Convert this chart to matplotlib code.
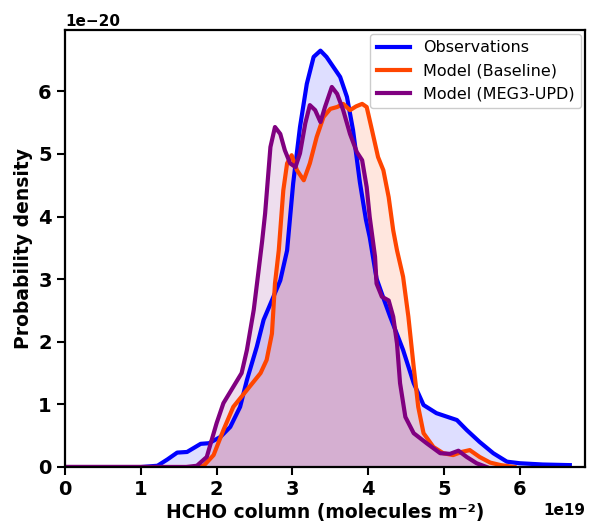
import numpy as np
import matplotlib
matplotlib.use("Agg")
import matplotlib.pyplot as plt

# x in units of 1e19 molecules m^-2, y in units of 1e-20
obs_x = [0.0, 1.0, 1.22, 1.35, 1.48, 1.61, 1.79, 1.9, 2.05, 2.18, 2.31, 2.40, 2.53, 2.62, 2.75,
         2.84, 2.93, 3.01, 3.10, 3.19, 3.28, 3.37, 3.45, 3.54, 3.63, 3.72, 3.80, 3.89, 3.97,
         4.02, 4.11, 4.20, 4.29, 4.46, 4.60, 4.73, 4.90, 5.17, 5.30, 5.47, 5.65, 5.83, 6.0, 6.3, 6.66]
obs_y = [0.0, 0.0, 0.02, 0.12, 0.23, 0.24, 0.37, 0.38, 0.48, 0.64, 0.96, 1.39, 1.92, 2.35, 2.72,
         2.98, 3.46, 4.53, 5.43, 6.12, 6.55, 6.65, 6.55, 6.39, 6.23, 5.91, 5.38, 4.55, 3.95,
         3.67, 3.01, 2.70, 2.40, 1.87, 1.34, 0.99, 0.86, 0.75, 0.59, 0.40, 0.22, 0.085, 0.06, 0.04, 0.03]

base_x = [0.0, 1.7, 1.83, 1.96, 2.09, 2.22, 2.40, 2.58, 2.66, 2.73, 2.77, 2.82, 2.88, 2.93, 2.99,
          3.06, 3.15, 3.23, 3.32, 3.41, 3.50, 3.59, 3.67, 3.76, 3.84, 3.92, 3.98, 4.05, 4.13,
          4.20, 4.27, 4.33, 4.38, 4.46, 4.53, 4.60, 4.66, 4.73, 4.86, 4.99, 5.12, 5.23, 5.34,
          5.47, 5.61, 5.75, 5.93]
base_y = [0.0, 0.0, 0.02, 0.19, 0.59, 0.96, 1.23, 1.50, 1.71, 2.13, 2.93, 3.46, 4.42, 4.85, 4.98,
          4.74, 4.58, 4.85, 5.27, 5.59, 5.72, 5.75, 5.80, 5.70, 5.76, 5.80, 5.75, 5.38, 4.95,
          4.74, 4.31, 3.78, 3.46, 3.04, 2.40, 1.60, 0.96, 0.54, 0.32, 0.22, 0.19, 0.24, 0.27,
          0.16, 0.07, 0.03, 0.0]

meg_x = [0.0, 1.6, 1.74, 1.87, 2.0, 2.09, 2.22, 2.33, 2.40, 2.49, 2.55, 2.60, 2.64, 2.71, 2.77,
         2.84, 2.90, 2.97, 3.04, 3.10, 3.17, 3.23, 3.30, 3.37, 3.43, 3.52, 3.59, 3.67, 3.76,
         3.85, 3.92, 3.98, 4.02, 4.09, 4.11, 4.18, 4.27, 4.33, 4.38, 4.42, 4.49, 4.60, 4.77,
         4.95, 5.08, 5.19, 5.30, 5.43, 5.56]
meg_y = [0.0, 0.0, 0.02, 0.16, 0.70, 1.02, 1.28, 1.50, 1.87, 2.51, 3.10, 3.60, 4.05, 5.11, 5.43,
         5.32, 5.06, 4.85, 4.79, 5.01, 5.49, 5.78, 5.70, 5.51, 5.75, 6.07, 5.96, 5.70, 5.32,
         5.03, 4.90, 4.47, 3.99, 3.36, 2.93, 2.72, 2.66, 2.40, 1.97, 1.34, 0.80, 0.54, 0.38,
         0.22, 0.21, 0.26, 0.16, 0.06, 0.0]

labels = ["Observations", "Model (Baseline)", "Model (MEG3-UPD)"]
colors = ["#0000ff", "#ff4500", "#800080"]

plt.rcParams['font.family'] = ['DejaVu Sans']
fig = plt.figure(figsize=(5.95, 5.25), dpi=100)
ax = fig.add_axes([65/595, 1 - 467/525, 520/595, 437/525])

series = [(obs_x, obs_y), (base_x, base_y), (meg_x, meg_y)]
for (xs, ys), lab, c in zip(series, labels, colors):
    xs = np.array(xs) * 1e19
    ys = np.array(ys) * 1e-20
    ax.fill_between(xs, ys, 0, color=c, alpha=0.13, linewidth=0)
    ax.plot(xs, ys, color=c, lw=3.0, label=lab, solid_joinstyle='round')

ax.set_xlim(0, 6.86e19)
ax.set_ylim(0, 6.98e-20)
ax.set_xticks(np.arange(0, 7) * 1e19)
ax.set_yticks(np.arange(0, 7) * 1e-20)

for s in ax.spines.values():
    s.set_linewidth(1.6)
ax.tick_params(axis='both', which='major', length=6, width=1.5, labelsize=14)
for lbl in ax.get_xticklabels() + ax.get_yticklabels():
    lbl.set_fontweight('bold')
ax.xaxis.get_offset_text().set_fontweight('bold')
ax.xaxis.get_offset_text().set_fontsize(11)
ax.yaxis.get_offset_text().set_fontweight('bold')
ax.yaxis.get_offset_text().set_fontsize(11)

ax.set_xlabel("HCHO column (molecules m⁻²)", fontsize=13.5, fontweight='bold', labelpad=3)
ax.set_ylabel("Probability density", fontsize=13.5, fontweight='bold', labelpad=4)

ax.legend(loc='upper right', fontsize=11.5, handlelength=2.1, framealpha=1.0,
          borderaxespad=0.25)

fig.savefig("out.png", dpi=100)
